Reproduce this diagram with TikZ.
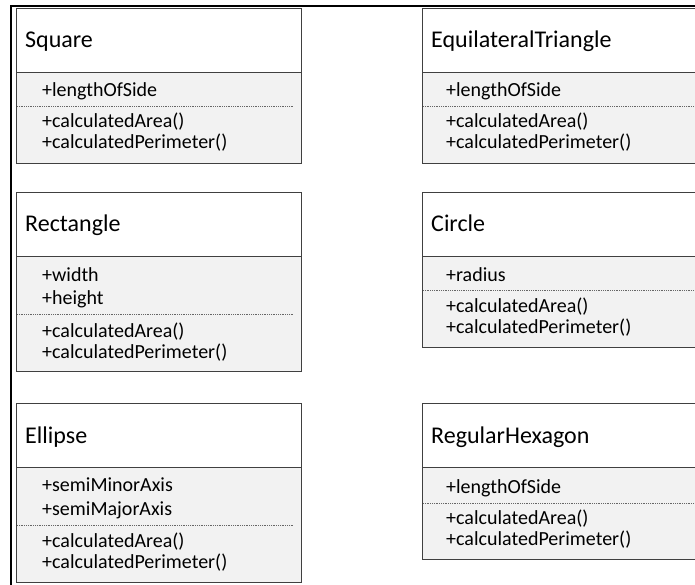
\documentclass[tikz,border=0pt]{standalone}
\usepackage{fontspec}
\setmainfont{Carlito}
\usepackage{xcolor}

\tikzset{
  headbox/.style={draw=black!75, line width=1pt, fill=white, anchor=north west,
    minimum width=285pt, minimum height=64pt, inner sep=0pt},
  bodybox/.style={draw=black!75, line width=1pt, fill=gray!10, anchor=north west,
    minimum width=285pt, inner sep=0pt},
  classname/.style={anchor=base west, inner sep=0pt, font=\fontsize{24}{28}\selectfont},
  member/.style={anchor=base west, inner sep=0pt, font=\fontsize{20}{24}\selectfont},
  sepline/.style={densely dotted, draw=black!60, line width=0.8pt},
  frameline/.style={line width=2.5pt, black},
}

\begin{document}
\begin{tikzpicture}[x=1pt, y=-1pt]
\clip (0,0) rectangle (695,585);
\draw[frameline] (11,590) -- (11,6) -- (700,6);

% Square
\node[bodybox, minimum height=91pt] (squarebody) at (16,72) {};
\node[headbox] (square) at (16,8) {};
\node[classname] (squarename) at (25,48) {Square};
\node[member] (squareside) at (42,97) {+lengthOfSide};
\draw[sepline] (17,106) -- (293,106);
\node[member] (squarearea) at (42,128) {+calculatedArea()};
\node[member] (squareperim) at (42,149) {+calculatedPerimeter()};

% EquilateralTriangle
\node[bodybox, minimum width=340pt, minimum height=91pt] (trianglebody) at (422,72) {};
\node[headbox, minimum width=340pt] (triangle) at (422,8) {};
\node[classname] (trianglename) at (431,48) {EquilateralTriangle};
\node[member] (triangleside) at (446,97) {+lengthOfSide};
\draw[sepline] (423,106) -- (700,106);
\node[member] (trianglearea) at (446,128) {+calculatedArea()};
\node[member] (triangleperim) at (446,149) {+calculatedPerimeter()};

% Rectangle
\node[bodybox, minimum height=115pt] (rectbody) at (16,256) {};
\node[headbox] (rect) at (16,192) {};
\node[classname] (rectname) at (25,232) {Rectangle};
\node[member] (rectwidth) at (42,281) {+width};
\node[member] (rectheight) at (42,304) {+height};
\draw[sepline] (17,314) -- (293,314);
\node[member] (rectarea) at (42,337) {+calculatedArea()};
\node[member] (rectperim) at (42,358) {+calculatedPerimeter()};

% Circle
\node[bodybox, minimum width=340pt, minimum height=91pt] (circlebody) at (422,256) {};
\node[headbox, minimum width=340pt] (circle) at (422,192) {};
\node[classname] (circlename) at (431,232) {Circle};
\node[member] (circleradius) at (446,281) {+radius};
\draw[sepline] (423,290) -- (700,290);
\node[member] (circlearea) at (446,312) {+calculatedArea()};
\node[member] (circleperim) at (446,333) {+calculatedPerimeter()};

% Ellipse
\node[bodybox, minimum height=115pt] (ellipsebody) at (16,467) {};
\node[headbox] (ellipse) at (16,403) {};
\node[classname] (ellipsename) at (25,443) {Ellipse};
\node[member] (ellipseminor) at (42,491) {+semiMinorAxis};
\node[member] (ellipsemajor) at (42,515) {+semiMajorAxis};
\draw[sepline] (17,525) -- (293,525);
\node[member] (ellipsearea) at (42,547) {+calculatedArea()};
\node[member] (ellipseperim) at (42,568) {+calculatedPerimeter()};

% RegularHexagon
\node[bodybox, minimum width=340pt, minimum height=92pt] (hexbody) at (422,467) {};
\node[headbox, minimum width=340pt] (hex) at (422,403) {};
\node[classname] (hexname) at (431,443) {RegularHexagon};
\node[member] (hexside) at (446,493) {+lengthOfSide};
\draw[sepline] (423,503) -- (700,503);
\node[member] (hexarea) at (446,524) {+calculatedArea()};
\node[member] (hexperim) at (446,545) {+calculatedPerimeter()};
\end{tikzpicture}
\end{document}
